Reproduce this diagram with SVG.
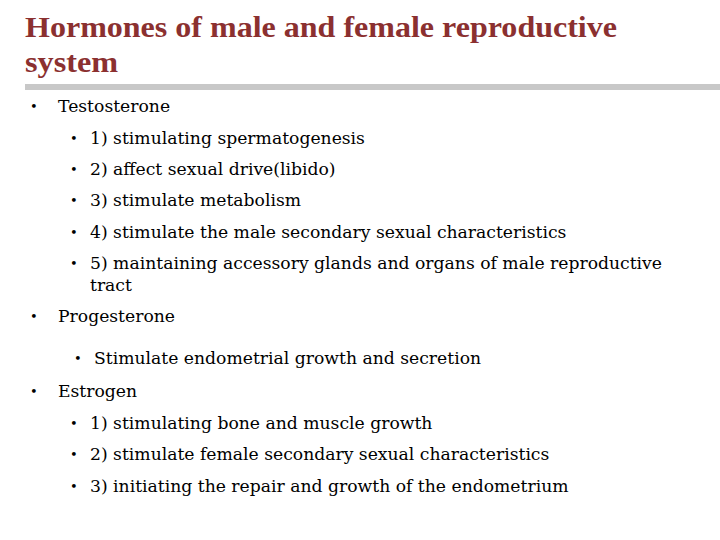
<svg xmlns="http://www.w3.org/2000/svg" width="720" height="540" viewBox="0 0 720 540">
<style>
.t{font-family:"Liberation Serif",serif;font-weight:bold;font-size:29px;fill:#8B3030}
.b{font-family:"DejaVu Serif",serif;font-size:17.2px;fill:#000}
.d{font-family:"DejaVu Serif",serif;font-size:13px;fill:#000}
</style>
<rect width="720" height="540" fill="#fff"/>
<text class="t" x="25" y="37" textLength="592" lengthAdjust="spacingAndGlyphs">Hormones of male and female reproductive</text>
<text class="t" x="25" y="72" textLength="93" lengthAdjust="spacingAndGlyphs">system</text>
<rect x="25" y="84" width="695" height="6" fill="#C8C8C8"/>
<g class="d">
<text x="30" y="111">•</text>
<text x="70" y="143">•</text>
<text x="70" y="174">•</text>
<text x="70" y="205">•</text>
<text x="70" y="237">•</text>
<text x="70" y="268">•</text>
<text x="30" y="321">•</text>
<text x="74" y="363">•</text>
<text x="30" y="396">•</text>
<text x="70" y="428">•</text>
<text x="70" y="459">•</text>
<text x="70" y="491">•</text>
</g>
<g class="b">
<text x="58" y="112">Testosterone</text>
<text x="90" y="144">1) stimulating spermatogenesis</text>
<text x="90" y="175">2) affect sexual drive(libido)</text>
<text x="90" y="206">3) stimulate metabolism</text>
<text x="90" y="238">4) stimulate the male secondary sexual characteristics</text>
<text x="90" y="269" textLength="572" lengthAdjust="spacingAndGlyphs">5) maintaining accessory glands and organs of male reproductive</text>
<text x="90" y="291">tract</text>
<text x="58" y="322">Progesterone</text>
<text x="94" y="364">Stimulate endometrial growth and secretion</text>
<text x="58" y="397">Estrogen</text>
<text x="90" y="429">1) stimulating bone and muscle growth</text>
<text x="90" y="460">2) stimulate female secondary sexual characteristics</text>
<text x="90" y="492">3) initiating the repair and growth of the endometrium</text>
</g>
</svg>
